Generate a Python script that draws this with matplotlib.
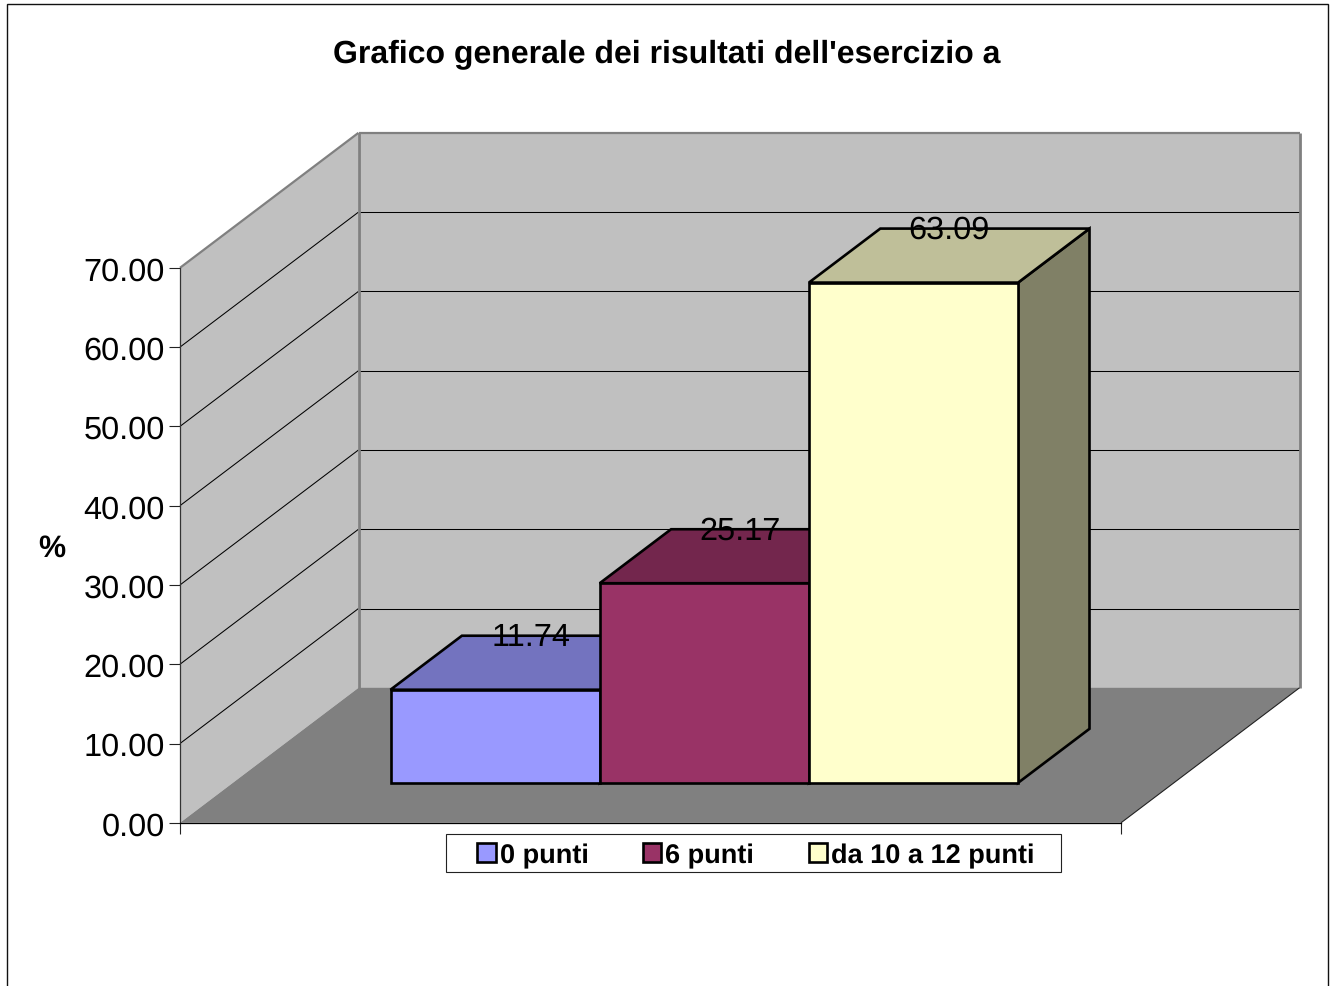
import matplotlib
matplotlib.use('Agg')
import matplotlib.pyplot as plt
from matplotlib.patches import Polygon, Patch, Rectangle

plt.rcParams['font.family'] = ['Liberation Sans', 'DejaVu Sans']
plt.rcParams['text.hinting'] = 'no_hinting'

categories = ['0 punti', '6 punti', 'da 10 a 12 punti']
values = [11.74, 25.17, 63.09]
yticks = [0, 10, 20, 30, 40, 50, 60, 70]

front_colors = ['#9999FF', '#993366', '#FFFFCC']
top_colors = ['#7373BF', '#73264D', '#BFBF99']
side_colors = ['#4D4D80', '#4D1A33', '#808066']

W, H = 1336, 987
AX_L, AX_B = 180, 823.8   # front corner of the floor, in pixels from top left
BAR_W = 209.2             # one bar, in pixels
XMAX = 941 / BAR_W        # floor width, in bar widths
YMAX = 70
DX = 178.5 / BAR_W        # shift of the back wall, in bar widths
DY = 135 / (555 / 70)     # shift of the back wall, in % units
BAR_D0 = 40 / 135         # front of the bars, as fraction of the depth
BAR_D1 = 94 / 135         # back of the bars
BAR_X0 = (390.5 - AX_L - 40 / 135 * 178.5) / BAR_W


def proj(x, y, d):
    return (x + d * DX, y + d * DY)


def face(ax, pts, color, edge='none', lw=0, z=1):
    ax.add_patch(Polygon(pts, closed=True, facecolor=color, edgecolor=edge, linewidth=lw,
                         joinstyle='miter', clip_on=False, zorder=z))


def wall_line(ax, a, b, color, lw, z=1.5):
    ax.plot([a[0], b[0]], [a[1], b[1]], color=color, lw=lw, clip_on=False, zorder=z,
            solid_capstyle='butt')


fig = plt.figure(figsize=(W / 100, H / 100), dpi=100, facecolor='white')
ax = fig.add_axes([AX_L / W, 1 - AX_B / H, 941 / W, 555 / H], facecolor='none')
ax.set_xlim(0, XMAX)
ax.set_ylim(0, YMAX)

# outer frame, bottom edge runs off the picture
fig.add_artist(Rectangle((6.5 / W, -0.05), 1321.5 / W, 1.05 - 5 / H, transform=fig.transFigure,
                         facecolor='none', edgecolor='#111111', linewidth=1.0))

# walls and floor
face(ax, [proj(0, 0, 0), proj(0, YMAX, 0), proj(0, YMAX, 1), proj(0, 0, 1)], '#C0C0C0')
face(ax, [proj(0, 0, 1), proj(0, YMAX, 1), proj(XMAX, YMAX, 1), proj(XMAX, 0, 1)], '#C0C0C0')
face(ax, [proj(0, 0, 0), proj(XMAX, 0, 0), proj(XMAX, 0, 1), proj(0, 0, 1)], '#808080')

for v in yticks[1:-1]:
    wall_line(ax, proj(0, v, 0), proj(0, v, 1), 'black', 0.75)
    wall_line(ax, proj(0, v, 1), proj(XMAX, v, 1), 'black', 0.75)

wall_line(ax, proj(0, YMAX, 0), proj(0, YMAX, 1), '#808080', 1.6)
wall_line(ax, proj(0, YMAX, 1), proj(XMAX, YMAX, 1), '#808080', 1.6)
wall_line(ax, proj(0, 0, 1), proj(0, YMAX, 1), '#808080', 2)
wall_line(ax, proj(XMAX, 0, 1), proj(XMAX, YMAX, 1), '#808080', 2)
wall_line(ax, proj(XMAX, 0, 0), proj(XMAX, 0, 1), '#222222', 0.8)

# bars
for i, v in enumerate(values):
    x0 = BAR_X0 + i
    x1 = x0 + 1
    face(ax, [proj(x1, 0, BAR_D0), proj(x1, v, BAR_D0), proj(x1, v, BAR_D1), proj(x1, 0, BAR_D1)],
         side_colors[i], 'black', 1.9, 3)
    face(ax, [proj(x0, v, BAR_D0), proj(x1, v, BAR_D0), proj(x1, v, BAR_D1), proj(x0, v, BAR_D1)],
         top_colors[i], 'black', 1.9, 3)
    face(ax, [proj(x0, 0, BAR_D0), proj(x1, 0, BAR_D0), proj(x1, v, BAR_D0), proj(x0, v, BAR_D0)],
         front_colors[i], 'black', 1.9, 3)

for i, v in enumerate(values):
    lx = proj(BAR_X0 + i + 0.5, v, (BAR_D0 + BAR_D1) / 2)[0]
    ly = proj(0, v, BAR_D1)[1]
    ax.annotate('%.2f' % v, (lx, ly), xytext=(0, 1.5), textcoords='offset points', ha='center',
                va='center_baseline', fontsize=23.4, color='black', zorder=5, annotation_clip=False)

# axes
ax.set_yticks(yticks)
ax.set_yticklabels(['%.2f' % t for t in yticks], fontsize=23.4, va='center_baseline')
ax.set_xticks([0, XMAX])
ax.set_xticklabels(['', ''])
ax.tick_params(axis='both', length=8, width=0.8, color='#222222', pad=3)
for s in ['top', 'right']:
    ax.spines[s].set_visible(False)
ax.spines['left'].set_color('#333333')
ax.spines['left'].set_linewidth(0.9)
ax.spines['bottom'].set_color('black')
ax.spines['bottom'].set_linewidth(0.9)

ax.set_ylabel('%', rotation=0, fontsize=22, fontweight='bold', ha='center', va='center')
ax.yaxis.set_label_coords((52 - AX_L) / 941, (AX_B - 549) / 555)

fig.text(667 / W, 1 - 54 / H, "Grafico generale dei risultati dell'esercizio a", ha='center', va='center',
         fontsize=23, fontweight='bold')

# legend
fig.add_artist(Rectangle((446 / W, 1 - 872.7 / H), 615 / W, 38 / H, transform=fig.transFigure,
                         facecolor='white', edgecolor='#222222', linewidth=0.8))
handles = [Patch(facecolor=c, edgecolor='black', linewidth=1.9) for c in front_colors]
fig.legend(handles, categories, loc='center', bbox_to_anchor=(756 / W, 1 - 856 / H), ncols=3, frameon=False,
           prop={'size': 19.5, 'weight': 'bold'}, handlelength=0.68, handleheight=0.68, handletextpad=0.15,
           columnspacing=2.0, borderpad=0, borderaxespad=0)

fig.savefig('out.png', dpi=100)
